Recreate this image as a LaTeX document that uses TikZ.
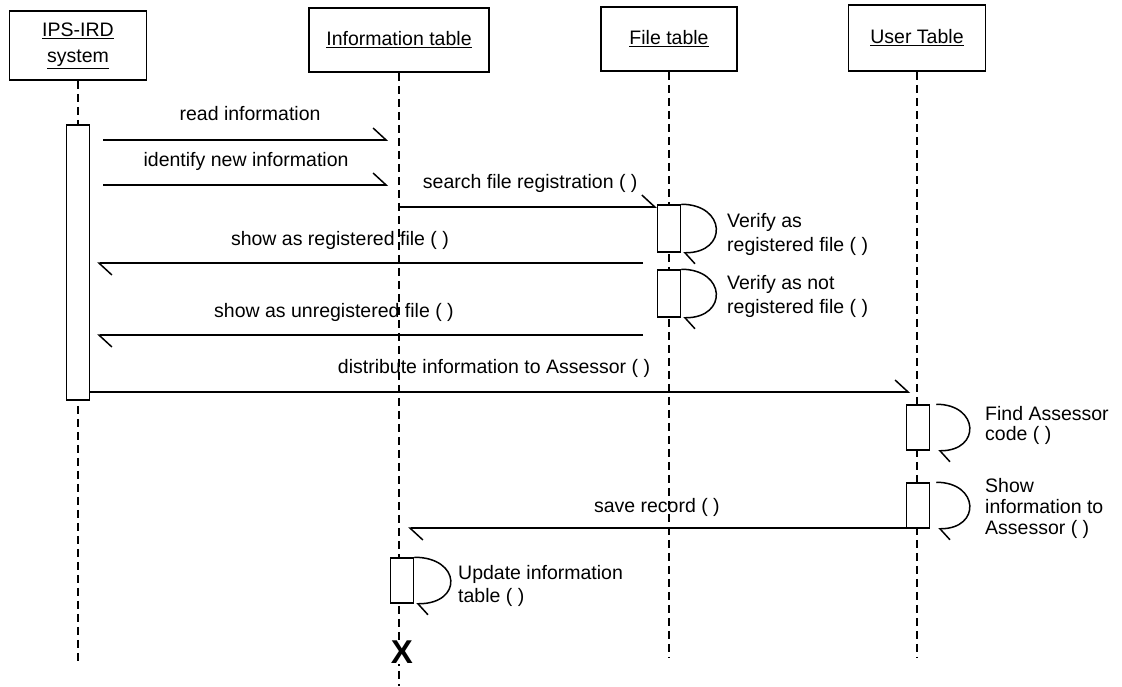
\documentclass[tikz,border=0pt]{standalone}
\usepackage{fontspec}
\setmainfont{Liberation Sans}
\usetikzlibrary{arrows.meta}
\begin{document}
\begin{tikzpicture}[x=1pt,y=-1pt,
  every node/.style={font=\fontsize{19.5}{24}\selectfont},
  obj/.style={draw, line width=1.6pt, align=center, inner sep=0pt},
  life/.style={line width=1.4pt, dash pattern=on 8pt off 5pt},
  actbar/.style={draw, fill=white, line width=1.5pt, minimum width=23pt, inner sep=0pt},
  msg/.style={line width=1.5pt, -{Straight Barb[harpoon,length=13pt,width=24pt]}},
  selfcall/.style={line width=1.5pt, -{Straight Barb[harpoon,length=10pt,width=22pt]}},
  lbl/.style={anchor=base, inner sep=0pt},
  note/.style={anchor=north west, align=left, inner sep=0pt}
]
\fill[white] (0,0) rectangle (1122,686);
\useasboundingbox (0,0) rectangle (1122,686);

% objects
\node[obj, minimum width=137pt, minimum height=69pt] (sys)  at (78,45.5)
  {\underline{IPS-IRD}\\[2pt]\underline{system}};
\node[obj, minimum width=180pt, minimum height=64pt] (info) at (399,40)
  {\underline{Information table}};
\node[obj, minimum width=136pt, minimum height=64pt] (file) at (669,39)
  {\underline{File table}};
\node[obj, minimum width=137pt, minimum height=66pt] (user) at (917,38)
  {\underline{User Table}};

% lifelines
\coordinate (sysEnd)  at (78,665);
\coordinate (infoEnd) at (399,686);
\coordinate (fileEnd) at (669,657);
\coordinate (userEnd) at (917,657);
\draw[life] (sys.south)  -- (sysEnd);
\draw[life] (info.south) -- (infoEnd);
\draw[life] (file.south) -- (fileEnd);
\draw[life] (user.south) -- (userEnd);

% activation bars
\node[actbar, minimum height=275pt] (sysbar) at (78,262.5) {};
\node[actbar, minimum height=47pt] (fb1) at (669,228.5) {};
\node[actbar, minimum height=47pt] (fb2) at (669,293.5) {};
\node[actbar, minimum height=45pt] (ub1) at (918,427.5) {};
\node[actbar, minimum height=45pt] (ub2) at (918,505.5) {};
\node[actbar, minimum height=45pt] (ib)  at (402,580.5) {};

% end of the information table object
\node[font=\fontsize{33}{33}\selectfont\bfseries, fill=white, inner sep=1pt]
  (xend) at (402,652) {X};

% message end points
\coordinate (m1a) at (103,140); \coordinate (m1b) at (388,140);
\coordinate (m2a) at (103,185); \coordinate (m2b) at (388,185);
\coordinate (m3a) at (399,207);
\coordinate (m4a) at (643,263); \coordinate (m4b) at (97,263);
\coordinate (m5a) at (643,335); \coordinate (m5b) at (97,335);
\coordinate (m6a) at (89.5,392); \coordinate (m6b) at (910,392);
\coordinate (m7b) at (408,528);

% messages
\draw[msg] (m1a) -- node[lbl, pos=0.516, yshift=20pt] {read information} (m1b);
\draw[msg] (m2a) -- node[lbl, pos=0.502, yshift=19pt] {identify new information} (m2b);
\draw[msg] (m3a) -- node[lbl, pos=0.509, yshift=19pt] {search file registration ( )} (m3a -| fb1.west);
\draw[msg] (m4a) -- node[lbl, pos=0.555, yshift=18pt] {show as registered file ( )} (m4b);
\draw[msg] (m5a) -- node[lbl, pos=0.566, yshift=18pt] {show as unregistered file ( )} (m5b);
\draw[msg] (m6a) -- node[lbl, pos=0.493, yshift=19pt] {distribute information to Assessor ( )} (m6b);
\draw[msg] (m7b -| ub2.west) -- node[lbl, pos=0.5, yshift=16pt] {save record ( )} (m7b);

% self calls
\draw[selfcall] (fb1.north east) .. controls +(45,0) and +(45,0) .. ([xshift=2pt]fb1.south east);
\draw[selfcall] (fb2.north east) .. controls +(45,0) and +(45,0) .. ([xshift=2pt]fb2.south east);
\draw[selfcall] ([xshift=6pt]ub1.north east) .. controls +(43,0) and +(43,0) .. ([xshift=8pt]ub1.south east);
\draw[selfcall] ([xshift=6pt]ub2.north east) .. controls +(43,0) and +(43,0) .. ([xshift=8pt]ub2.south east);
\draw[selfcall] (ib.north east) .. controls +(47,0) and +(47,0) .. ([xshift=2pt]ib.south east);

% self call labels
\node[note] (n1) at (727,213) {Verify as\\registered file ( )};
\node[note] (n2) at (727,275) {Verify as not\\registered file ( )};
\node[note, font=\fontsize{19.5}{20}\selectfont] (n3) at (985,406) {Find Assessor\\code ( )};
\node[note, font=\fontsize{19.5}{21}\selectfont] (n4) at (985,478) {Show\\information to\\Assessor ( )};
\node[note, font=\fontsize{19.5}{23}\selectfont] (n5) at (458,565) {Update information\\table ( )};
\end{tikzpicture}
\end{document}
